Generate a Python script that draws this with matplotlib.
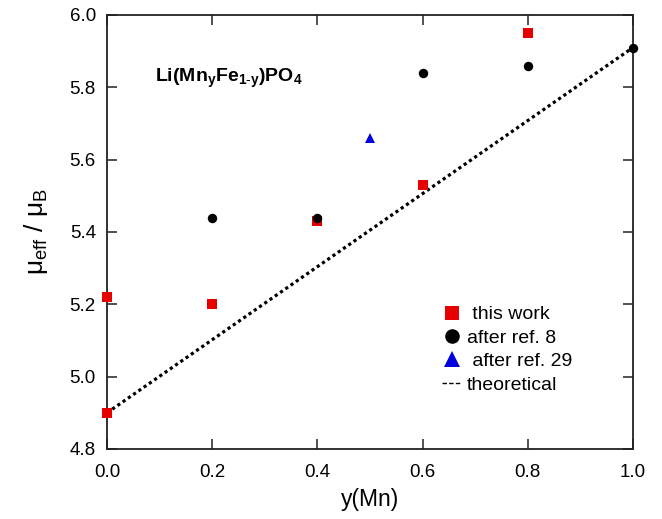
import matplotlib
matplotlib.use("Agg")
import matplotlib.pyplot as plt
from matplotlib.lines import Line2D

plt.rcParams['font.family'] = ['Liberation Sans', 'DejaVu Sans']
plt.rcParams['mathtext.fontset'] = 'custom'
plt.rcParams['mathtext.rm'] = 'Liberation Sans'
plt.rcParams['mathtext.it'] = 'Liberation Sans'
plt.rcParams['mathtext.bf'] = 'Liberation Sans:bold'

# datos
this_x = [0.0, 0.0, 0.2, 0.4, 0.6, 0.8]
this_y = [5.22, 4.90, 5.20, 5.43, 5.53, 5.95]

ref8_x = [0.2, 0.4, 0.6, 0.8, 1.0]
ref8_y = [5.44, 5.44, 5.84, 5.86, 5.91]

ref29_x = [0.5]
ref29_y = [5.66]

theory_x = [0.0, 1.0]
theory_y = [4.90, 5.91]

fig = plt.figure(figsize=(6.62, 5.19), dpi=100)
ax = fig.add_axes([0.1616, 0.1349, 0.7945, 0.8362])

# linea teorica punteada
ax.plot(theory_x, theory_y, color='black', linewidth=2.3,
        dashes=(1.0, 1.0), clip_on=False, zorder=2)

ax.plot(this_x, this_y, linestyle='none', marker='s', color='#e60000',
        markersize=7.2, markeredgewidth=0, clip_on=False, zorder=3)
ax.plot(ref8_x, ref8_y, linestyle='none', marker='o', color='black',
        markersize=6.8, markeredgewidth=0, clip_on=False, zorder=4)
ax.plot(ref29_x, ref29_y, linestyle='none', marker='^', color='#0000dd',
        markersize=6.8, markeredgewidth=0, clip_on=False, zorder=3)

ax.set_xlim(0, 1.0)
ax.set_ylim(4.8, 6.0)
ax.set_xticks([0.0, 0.2, 0.4, 0.6, 0.8, 1.0])
ax.set_yticks([4.8, 5.0, 5.2, 5.4, 5.6, 5.8, 6.0])
ax.set_xticklabels(['0.0', '0.2', '0.4', '0.6', '0.8', '1.0'])
ax.set_yticklabels(['4.8', '5.0', '5.2', '5.4', '5.6', '5.8', '6.0'])
ax.tick_params(direction='in', top=True, right=True, length=7, width=1.1,
               labelsize=13.5, color='#222222')
ax.tick_params(axis='x', pad=11)
ax.tick_params(axis='y', pad=8)
for s in ax.spines.values():
    s.set_linewidth(1.3)
    s.set_color('#222222')

ax.set_xlabel('y(Mn)', fontsize=16.5, labelpad=5)
ax.set_ylabel(r'$\mu_{\rm eff}$ / $\mu_{\rm B}$', fontsize=19, labelpad=14)

ax.text(0.092, 5.825, r'$\mathbf{Li(Mn_yFe_{1\text{-}y})PO_4}$',
        fontsize=14, va='center', ha='left')

handles = [
    Line2D([], [], linestyle='none', marker='s', color='#e60000',
           markersize=10.5, markeredgewidth=0),
    Line2D([], [], linestyle='none', marker='o', color='black',
           markersize=10.5, markeredgewidth=0),
    Line2D([], [], linestyle='none', marker='^', color='#0000dd',
           markersize=11, markeredgewidth=0),
    Line2D([], [], color='black', linewidth=1.0, dashes=(3.2, 1.6)),
]
labels = [' this work', 'after ref. 8', ' after ref. 29', 'theoretical']
ax.legend(handles, labels, loc='upper left', bbox_to_anchor=(0.622, 0.348),
          frameon=False, fontsize=14, handlelength=1.0, handletextpad=0.3,
          labelspacing=0.3, borderaxespad=0)

fig.savefig('out.png', dpi=100)
